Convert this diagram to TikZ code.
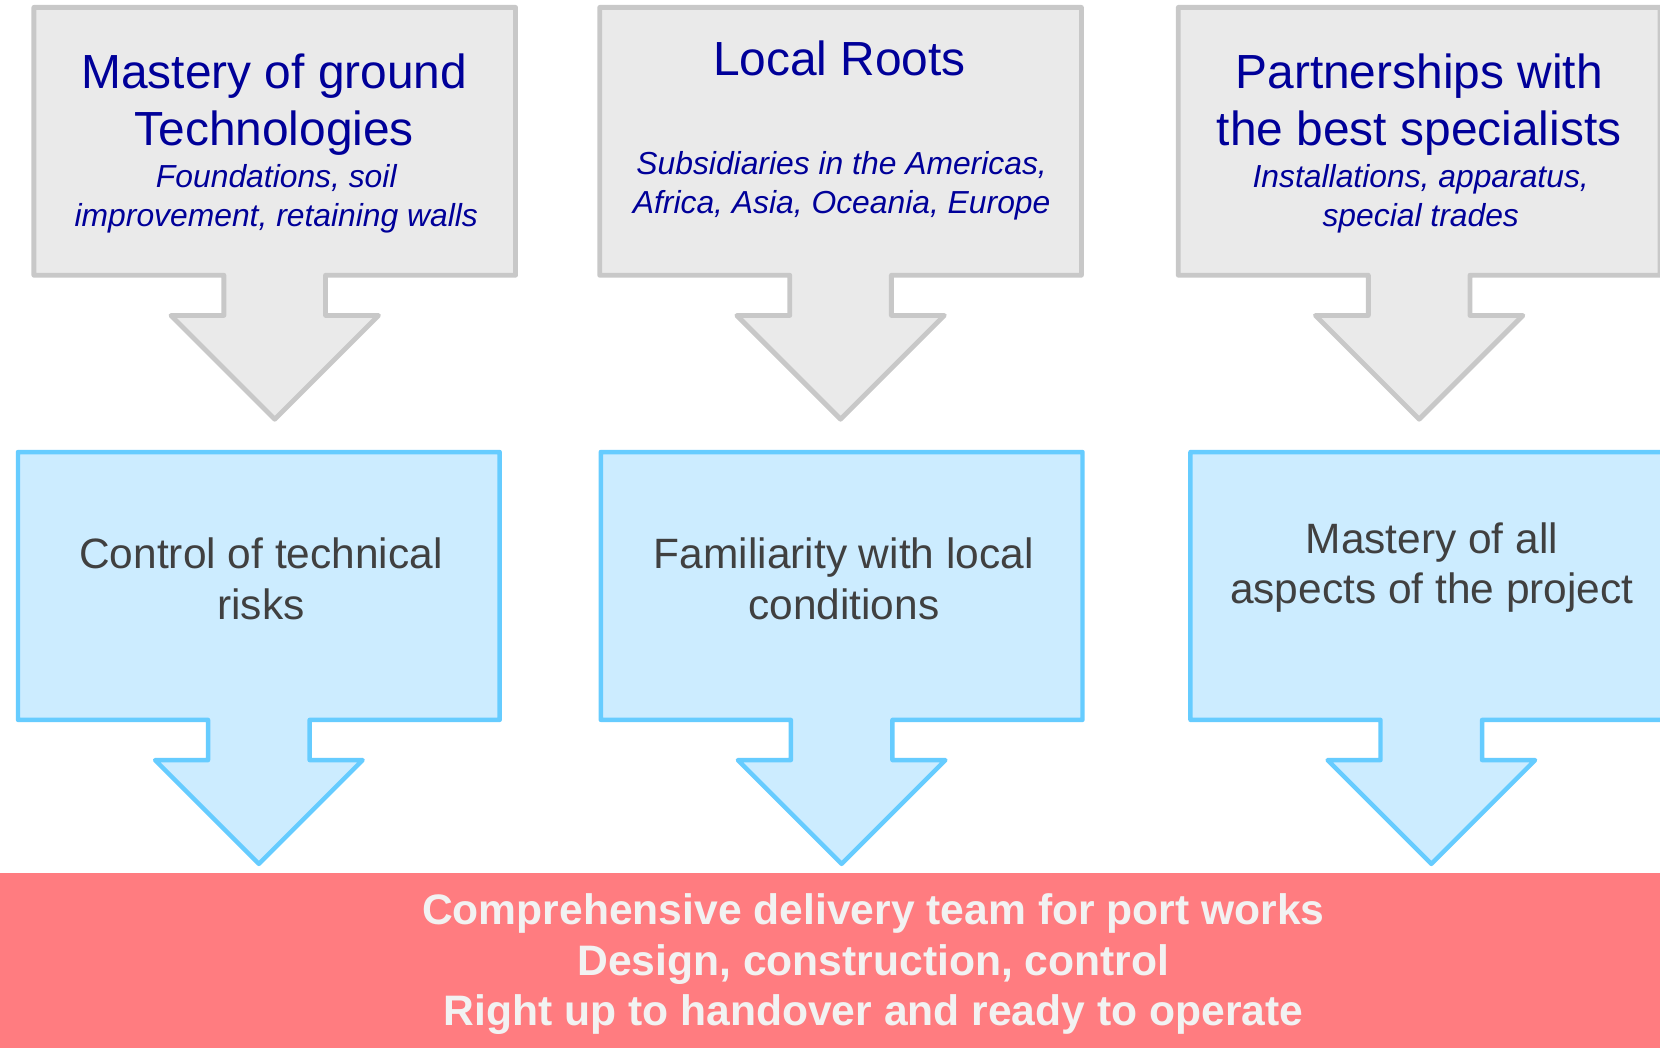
\documentclass[tikz,border=0pt]{standalone}
\usepackage{fontspec}
\setmainfont{Liberation Sans}
\definecolor{grayfill}{HTML}{EAEAEA}
\definecolor{grayline}{HTML}{C8C8C8}
\definecolor{bluefill}{HTML}{CCECFF}
\definecolor{blueline}{HTML}{66CCFF}
\definecolor{redbar}{HTML}{FF7C80}
\definecolor{navy}{HTML}{000099}
\definecolor{darktext}{HTML}{404040}
\definecolor{lighttext}{HTML}{F2F2F2}
\tikzset{
  callout/.pic={
    \draw[pic actions] (-227.5,0) -- (227.5,0) -- (227.5,253) -- (48,253) -- (48,291)
      -- (98,291) -- (0,389) -- (-98,291) -- (-48,291) -- (-48,253) -- (-227.5,253) -- cycle;
  },
  grayshape/.style={fill=grayfill, draw=grayline, line width=1.3pt, line join=round},
  blueshape/.style={fill=bluefill, draw=blueline, line width=1.2pt, line join=round},
  titletext/.style={anchor=base, inner sep=0pt, text=navy, font=\fontsize{12.86}{15}\selectfont},
  subtext/.style={anchor=base, inner sep=0pt, text=navy, font=\fontsize{8.55}{10}\selectfont\itshape},
  bluetext/.style={anchor=base, inner sep=0pt, text=darktext, font=\fontsize{11.4}{13.5}\selectfont},
  redtext/.style={anchor=base, inner sep=0pt, text=lighttext, font=\fontsize{11.45}{13.5}\selectfont\bfseries},
}
\begin{document}
\begin{tikzpicture}[x=0.01cm, y=-0.01cm]
\useasboundingbox (0,0) rectangle (1568,989);
\fill[white] (0,0) rectangle (1568,989);

% top grey callouts
\pic[grayshape] at (259.5,7) {callout};
\pic[grayshape] at (794,7) {callout};
\pic[grayshape] at (1340.5,7) {callout};

% blue callouts
\pic[blueshape] at (244.5,427) {callout};
\pic[blueshape] at (795,427) {callout};
\pic[blueshape] at (1352,427) {callout};

% red bar
\fill[redbar] (-5,824.5) rectangle (1580,1000);

% grey texts
\node[titletext] (g1a) at (259,83.5) {Mastery of ground};
\node[titletext] (g1b) at (259,137) {Technologies};
\node[subtext] (g1c) at (261,177.5) {Foundations, soil};
\node[subtext] (g1d) at (261,214) {improvement, retaining walls};

\node[titletext] (g2a) at (793,71.8) {Local Roots};
\node[subtext] (g2b) at (795,164.7) {Subsidiaries in the Americas,};
\node[subtext] (g2c) at (795,201.6) {Africa, Asia, Oceania, Europe};

\node[titletext] (g3a) at (1340.5,83.5) {Partnerships with};
\node[titletext] (g3b) at (1340.5,137) {the best specialists};
\node[subtext] (g3c) at (1342,177.5) {Installations, apparatus,};
\node[subtext] (g3d) at (1342,214) {special trades};

% blue texts
\node[bluetext] (b1a) at (246.5,536.8) {Control of technical};
\node[bluetext] (b1b) at (246.5,585.6) {risks};
\node[bluetext] (b2a) at (797,536.8) {Familiarity with local};
\node[bluetext] (b2b) at (797,585.6) {conditions};
\node[bluetext] (b3a) at (1352.5,522.6) {Mastery of all};
\node[bluetext] (b3b) at (1352.5,569.9) {aspects of the project};

% red texts
\node[redtext] (r1) at (825,873.7) {Comprehensive delivery team for port works};
\node[redtext] (r2) at (825,921.9) {Design, construction, control};
\node[redtext] (r3) at (825,968.8) {Right up to handover and ready to operate};
\end{tikzpicture}
\end{document}
